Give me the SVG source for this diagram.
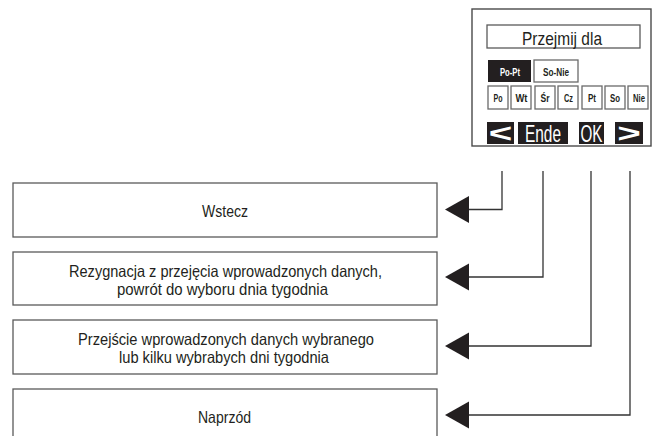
<svg xmlns="http://www.w3.org/2000/svg" width="655" height="436" viewBox="0 0 655 436">
  <style>
    .frame { fill: #ffffff; stroke: #4a4a4a; stroke-width: 1.4; }
    .box { fill: #ffffff; stroke: #5a5a5a; stroke-width: 1.3; }
    .key { fill: #ffffff; stroke: #6a6a6a; stroke-width: 1.3; }
    .dark { fill: #231f20; }
    .label { font-family: "Liberation Sans", Arial, sans-serif; font-size: 16.5px; fill: #231f20; text-anchor: middle; }
    .title { font-family: "Liberation Sans", Arial, sans-serif; font-size: 19px; fill: #231f20; text-anchor: middle; }
    .small { font-family: "Liberation Sans", Arial, sans-serif; font-size: 11px; font-weight: bold; fill: #231f20; text-anchor: middle; }
    .inv { fill: #ffffff; }
    .softkey { font-family: "Liberation Sans", Arial, sans-serif; font-size: 24px; fill: #ffffff; text-anchor: middle; }
    .arrowkey { font-family: "Liberation Sans", Arial, sans-serif; font-size: 26px; font-weight: bold; fill: #ffffff; text-anchor: middle; }
    .link { fill: none; stroke: #333333; stroke-width: 1.3; }
    .head { fill: #231f20; }
  </style>

  <!-- display panel -->
  <g id="display">
    <rect class="frame" x="472" y="9" width="179" height="137"/>
    <rect class="box" x="487" y="25" width="153" height="23"/>
    <text class="title" x="562" y="45" textLength="80" lengthAdjust="spacingAndGlyphs">Przejmij dla</text>

    <rect class="dark" x="488" y="60" width="43" height="22"/>
    <text class="small inv" x="510" y="76" textLength="20" lengthAdjust="spacingAndGlyphs">Po-Pt</text>
    <rect class="key" x="534" y="60" width="44" height="22"/>
    <text class="small" x="556" y="76" textLength="26" lengthAdjust="spacingAndGlyphs">So-Nie</text>

    <rect class="key" x="488" y="86" width="20" height="23"/>
    <text class="small" x="498" y="102" textLength="9" lengthAdjust="spacingAndGlyphs">Po</text>
    <rect class="key" x="511" y="86" width="20" height="23"/>
    <text class="small" x="521.5" y="102" textLength="12" lengthAdjust="spacingAndGlyphs">Wt</text>
    <rect class="key" x="535" y="86" width="20" height="23"/>
    <text class="small" x="545" y="102" textLength="9" lengthAdjust="spacingAndGlyphs">Śr</text>
    <rect class="key" x="558" y="86" width="20" height="23"/>
    <text class="small" x="568.5" y="102" textLength="9" lengthAdjust="spacingAndGlyphs">Cz</text>
    <rect class="key" x="582" y="86" width="20" height="23"/>
    <text class="small" x="592" y="102" textLength="8" lengthAdjust="spacingAndGlyphs">Pt</text>
    <rect class="key" x="605" y="86" width="20" height="23"/>
    <text class="small" x="615" y="102" textLength="10" lengthAdjust="spacingAndGlyphs">So</text>
    <rect class="key" x="628" y="86" width="20" height="23"/>
    <text class="small" x="639" y="102" textLength="12" lengthAdjust="spacingAndGlyphs">Nie</text>

    <!-- soft keys -->
    <rect class="dark" x="487" y="122" width="27" height="22"/>
    <text class="arrowkey" transform="translate(500.5,142) scale(1.55,1)">&lt;</text>
    <rect class="dark" x="518" y="122" width="50" height="22"/>
    <text class="softkey" x="543" y="141.5" textLength="36" lengthAdjust="spacingAndGlyphs">Ende</text>
    <rect class="dark" x="579" y="122" width="25" height="22"/>
    <text class="softkey" x="591.5" y="141.5" textLength="22" lengthAdjust="spacingAndGlyphs">OK</text>
    <rect class="dark" x="615" y="122" width="28" height="22"/>
    <text class="arrowkey" transform="translate(629,142) scale(1.55,1)">&gt;</text>
  </g>

  <!-- description boxes -->
  <g id="back">
    <rect class="box" x="13" y="183" width="424" height="54"/>
    <text class="label" x="225" y="217" textLength="46" lengthAdjust="spacingAndGlyphs">Wstecz</text>
  </g>
  <g id="cancel">
    <rect class="box" x="13" y="252" width="424" height="53"/>
    <text class="label" x="225.5" y="277" textLength="313" lengthAdjust="spacingAndGlyphs">Rezygnacja z przejęcia wprowadzonych danych,</text>
    <text class="label" x="222.5" y="295" textLength="211" lengthAdjust="spacingAndGlyphs">powrót do wyboru dnia tygodnia</text>
  </g>
  <g id="confirm">
    <rect class="box" x="13" y="320" width="424" height="54"/>
    <text class="label" x="226" y="345" textLength="296" lengthAdjust="spacingAndGlyphs">Przejście wprowadzonych danych wybranego</text>
    <text class="label" x="224" y="363" textLength="210" lengthAdjust="spacingAndGlyphs">lub kilku wybrabych dni tygodnia</text>
  </g>
  <g id="forward">
    <rect class="box" x="13" y="389" width="424" height="56"/>
    <text class="label" x="224.5" y="423" textLength="53" lengthAdjust="spacingAndGlyphs">Naprzód</text>
  </g>

  <!-- connectors from soft keys to descriptions -->
  <g id="connectors">
    <polyline class="link" points="502,171 502,209.5 468,209.5"/>
    <polygon class="head" points="445,209.5 469,196 469,223"/>
    <polyline class="link" points="543,171 543,277 468,277"/>
    <polygon class="head" points="445,277 469,263.5 469,290.5"/>
    <polyline class="link" points="591,171 591,346 468,346"/>
    <polygon class="head" points="445,346 469,332.5 469,359.5"/>
    <polyline class="link" points="630,171 630,415 468,415"/>
    <polygon class="head" points="445,415 469,401.5 469,428.5"/>
  </g>
</svg>
